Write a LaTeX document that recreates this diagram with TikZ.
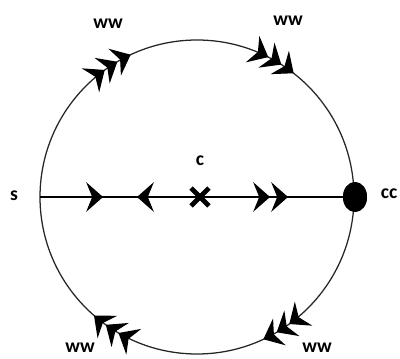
\documentclass[tikz,border=0pt]{standalone}
\usepackage{fontspec}
\setmainfont{Carlito}
\usetikzlibrary{arrows.meta,decorations.markings,shapes.geometric,shapes.misc}
\tikzset{
  rim/.style={line width=0.9pt,black!85},
  axis/.style={line width=1.1pt},
  lbl/.style={font=\fontsize{14}{16}\selectfont\bfseries,inner sep=0pt},
  sinkdot/.style={ellipse,fill=black,minimum width=6mm,minimum height=7.5mm,
    inner sep=0pt},
  crossmk/.style={cross out,draw,line width=3.4pt,minimum size=3.3mm,inner sep=0pt},
  wwarc/.style={-{Stealth[length=4.4mm,width=7.4mm,inset=1.5mm]},line width=0.9pt,black},
  axhead/.tip={Stealth[length=4.2mm,width=7.4mm,inset=1.5mm]},
}

\begin{document}
\begin{tikzpicture}
  \useasboundingbox (0,0) rectangle (10,8.95);
  \coordinate (O) at (4.925,4.025);
  \coordinate (s) at (1.0,4.025);
  % outer orbit
  \draw[rim] (O) circle (3.925);
  % clockwise heads, three per group
  \foreach \a in {52,57.5,63,115,120.5,126,229,234.5,240,295,300.5,306}
    \draw[wwarc] ([shift={(\a+3:3.925)}]O) arc[start angle=\a+3,end angle=\a,radius=3.925];
  \node[sinkdot] (sink) at (8.875,4.025) {};
  \draw[axis,postaction={decorate,decoration={markings,
      mark=at position 1.575cm with {\arrow{axhead}},
      mark=at position 2.425cm with {\arrowreversed{axhead}},
      mark=at position 5.75cm with {\arrow{axhead}},
      mark=at position 6.2cm with {\arrow{axhead}}}}]
    (s) -- (sink.center);
  \node[sinkdot] at (sink) {};
  \node[crossmk] (c) at (5.0,4.025) {};
  % labels
  \node[lbl] (slbl) at (0.35,4.05) {s};
  \node[lbl] (cclbl) at (9.725,4.1) {cc};
  \node[lbl] (clbl) at (5.0,4.925) {c};
  \node[lbl] (ww1) at (2.7,8.35) {ww};
  \node[lbl] (ww2) at (7.2,8.425) {ww};
  \node[lbl] (ww3) at (2.0,0.25) {ww};
  \node[lbl] (ww4) at (7.925,0.25) {ww};
\end{tikzpicture}
\end{document}
